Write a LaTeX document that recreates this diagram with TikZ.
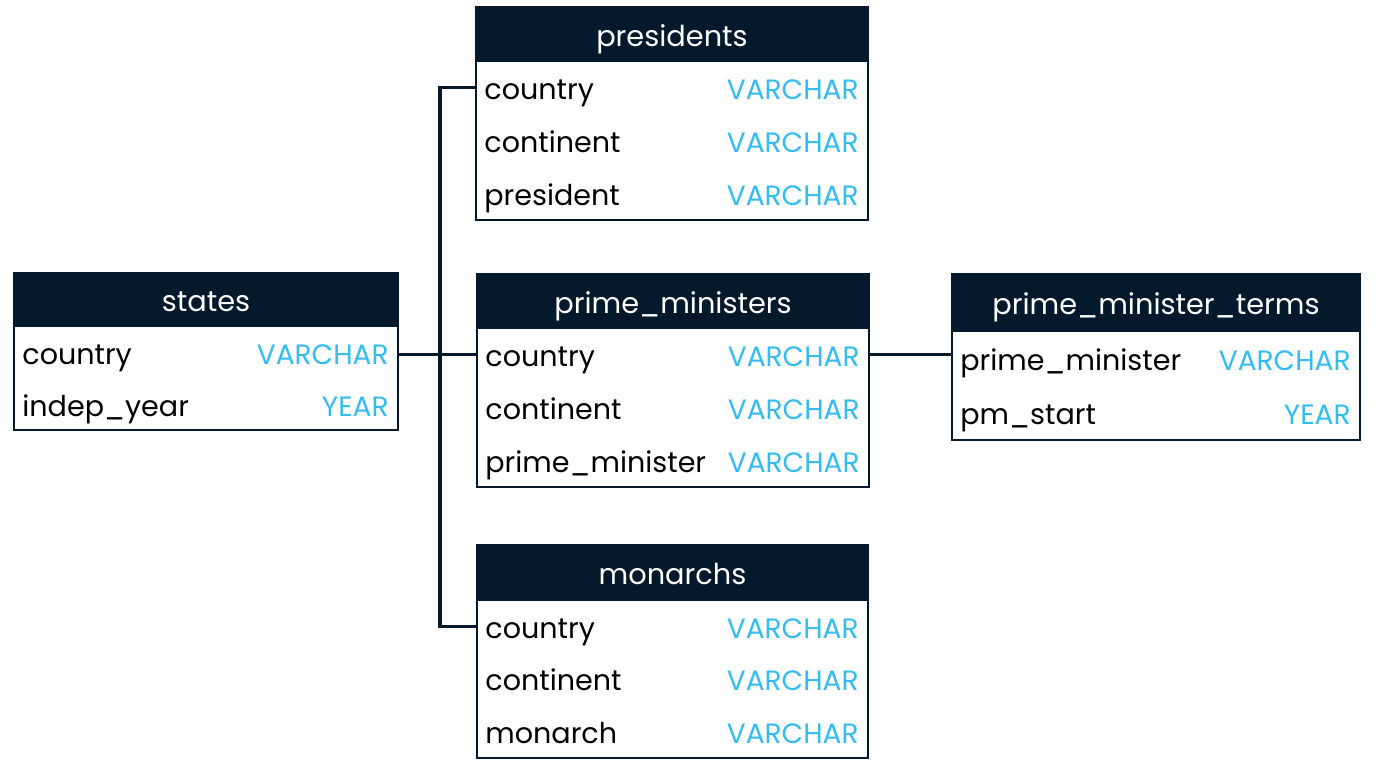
\documentclass[tikz,border=0pt]{standalone}
\usepackage{fontspec}
\setmainfont{Poppins}
\definecolor{navy}{HTML}{05192D}
\definecolor{sky}{HTML}{33BBF2}
\begin{document}
\begin{tikzpicture}[x=0.5pt,y=-0.5pt,
  hdr/.style={fill=navy,draw=navy,line width=1pt,inner sep=0pt,outer sep=0pt,anchor=north west},
  ttl/.style={anchor=mid,inner sep=0pt,text=white,yshift=-3.5pt,font=\fontsize{14.4}{16}\selectfont},
  row/.style={inner sep=0pt,outer sep=0pt,anchor=north west,draw=none},
  lbl/.style={anchor=mid west,inner xsep=4pt,inner ysep=0pt,yshift=-3.3pt,text=black,font=\fontsize{14.3}{16}\selectfont},
  typ/.style={anchor=mid east,inner xsep=4.5pt,inner ysep=0pt,yshift=-3.3pt,text=sky,font=\fontsize{14}{16}\selectfont},
  frame/.style={draw=navy,line width=1pt},
  link/.style={draw=navy,line width=1.6pt}]
\useasboundingbox (0,0) rectangle (1388,779);

% states
\node[hdr,minimum width=192pt,minimum height=26.5pt] (st) at (14,273) {};
\node[ttl] at (st.center) {states};
\node[row,minimum width=192pt,minimum height=26pt] (st1) at (st.south west) {};
\node[row,minimum width=192pt,minimum height=26pt] (st2) at (st1.south west) {};
\draw[frame] (st.north west) rectangle (st2.south east);
\node[lbl] at (st1.west) {country};      \node[typ] at (st1.east) {VARCHAR};
\node[lbl] at (st2.west) {indep\_year};  \node[typ] at (st2.east) {YEAR};

% presidents
\node[hdr,minimum width=196pt,minimum height=27pt] (pr) at (476,7) {};
\node[ttl] at (pr.center) {presidents};
\node[row,minimum width=196pt,minimum height=26.5pt] (pr1) at (pr.south west) {};
\node[row,minimum width=196pt,minimum height=26.5pt] (pr2) at (pr1.south west) {};
\node[row,minimum width=196pt,minimum height=26.5pt] (pr3) at (pr2.south west) {};
\draw[frame] (pr.north west) rectangle (pr3.south east);
\node[lbl] at (pr1.west) {country};    \node[typ] at (pr1.east) {VARCHAR};
\node[lbl] at (pr2.west) {continent};  \node[typ] at (pr2.east) {VARCHAR};
\node[lbl] at (pr3.west) {president};  \node[typ] at (pr3.east) {VARCHAR};

% prime_ministers
\node[hdr,minimum width=196pt,minimum height=27pt] (pm) at (477,274) {};
\node[ttl] at (pm.center) {prime\_ministers};
\node[row,minimum width=196pt,minimum height=26.5pt] (pm1) at (pm.south west) {};
\node[row,minimum width=196pt,minimum height=26.5pt] (pm2) at (pm1.south west) {};
\node[row,minimum width=196pt,minimum height=26.5pt] (pm3) at (pm2.south west) {};
\draw[frame] (pm.north west) rectangle (pm3.south east);
\node[lbl] at (pm1.west) {country};          \node[typ] at (pm1.east) {VARCHAR};
\node[lbl] at (pm2.west) {continent};        \node[typ] at (pm2.east) {VARCHAR};
\node[lbl] at (pm3.west) {prime\_minister};  \node[typ] at (pm3.east) {VARCHAR};

% monarchs
\node[hdr,minimum width=195.5pt,minimum height=27.5pt] (mo) at (477,545) {};
\node[ttl] at (mo.center) {monarchs};
\node[row,minimum width=195.5pt,minimum height=26.3pt] (mo1) at (mo.south west) {};
\node[row,minimum width=195.5pt,minimum height=26.3pt] (mo2) at (mo1.south west) {};
\node[row,minimum width=195.5pt,minimum height=26.3pt] (mo3) at (mo2.south west) {};
\draw[frame] (mo.north west) rectangle (mo3.south east);
\node[lbl] at (mo1.west) {country};    \node[typ] at (mo1.east) {VARCHAR};
\node[lbl] at (mo2.west) {continent};  \node[typ] at (mo2.east) {VARCHAR};
\node[lbl] at (mo3.west) {monarch};    \node[typ] at (mo3.east) {VARCHAR};

% prime_minister_terms
\node[hdr,minimum width=204pt,minimum height=28.5pt] (pt) at (952,274) {};
\node[ttl] at (pt.center) {prime\_minister\_terms};
\node[row,minimum width=204pt,minimum height=27.25pt] (pt1) at (pt.south west) {};
\node[row,minimum width=204pt,minimum height=27.25pt] (pt2) at (pt1.south west) {};
\draw[frame] (pt.north west) rectangle (pt2.south east);
\node[lbl] at (pt1.west) {prime\_minister};  \node[typ] at (pt1.east) {VARCHAR};
\node[lbl] at (pt2.west) {pm\_start};        \node[typ] at (pt2.east) {YEAR};

% connectors
\coordinate (bus) at (440,89);
\draw[link] (pm1.west -| st1.east) -- (pm1.west);
\draw[link] (pr1.west) -| (bus) |- (mo1.west);
\draw[link] (pm1.east) -- (pm1.east -| pt1.west);
\end{tikzpicture}
\end{document}
